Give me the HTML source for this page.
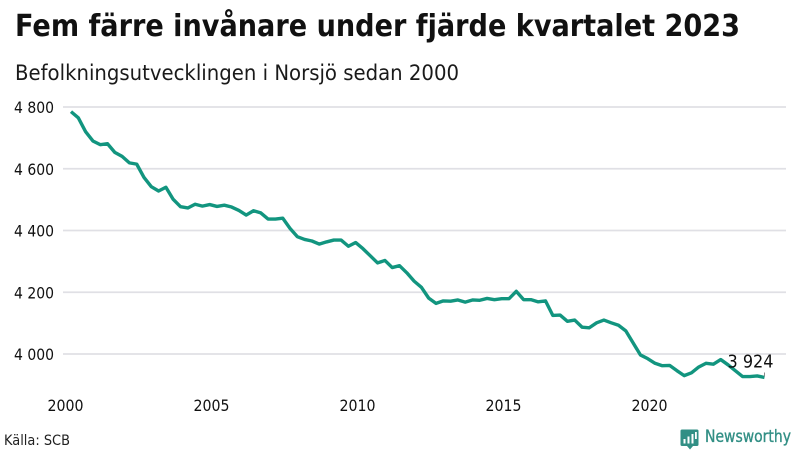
<!DOCTYPE html>
<html lang="sv">
<head>
<meta charset="utf-8">
<title>Fem färre invånare under fjärde kvartalet 2023</title>
<style>
html,body{margin:0;padding:0;background:#fff;width:800px;height:450px;overflow:hidden}
svg{display:block;font-family:"DejaVu Sans","Liberation Sans",sans-serif;fill:#111}
</style>
</head>
<body>
<svg id="chart" width="800" height="450" viewBox="0 0 800 450" xmlns="http://www.w3.org/2000/svg">
  <rect x="0" y="0" width="800" height="450" fill="#ffffff"/>
  <text x="15" y="36" font-size="30.500" font-weight="700" fill="#111111" textLength="725" lengthAdjust="spacingAndGlyphs">Fem färre invånare under fjärde kvartalet 2023</text>
  <text x="15" y="80" font-size="21" fill="#1a1a1a" textLength="444" lengthAdjust="spacingAndGlyphs">Befolkningsutvecklingen i Norsjö sedan 2000</text>
  <g id="grid"></g>
  <g id="yaxis"></g>
  <g id="xaxis"></g>
  <path id="line" fill="none" stroke="#12957f" stroke-width="3.400" stroke-linejoin="round" stroke-linecap="butt"/>
  <line id="endTick" stroke="#8a8a8a" stroke-width="1"/>
  <text id="endLabel" font-size="18" fill="#111111" text-anchor="middle" textLength="46" lengthAdjust="spacingAndGlyphs"></text>
  <text x="4" y="445" font-size="14.500" fill="#222222" textLength="66" lengthAdjust="spacingAndGlyphs">Källa: SCB</text>
  <g>
    <path d="M682 429.500H697Q698.500 429.500 698.500 431V444.500Q698.500 446 697 446H693L690 449.500L687 446H682Q680.500 446 680.500 444.500V431Q680.500 429.500 682 429.500Z" fill="#328f85"/>
    <rect x="683.500" y="439" width="2" height="4.500" fill="#ffffff"/>
    <rect x="687.500" y="436.500" width="2" height="7" fill="#ffffff"/>
    <rect x="691.500" y="434" width="2" height="9.500" fill="#ffffff"/>
    <rect x="695" y="432" width="1.800" height="7" fill="#ffffff"/>
    <text x="705" y="442" font-size="16.500" fill="#328f85" stroke="#328f85" stroke-width="0.350" textLength="86" lengthAdjust="spacingAndGlyphs">Newsworthy</text>
  </g>
</svg>
<script>
const yTickValues = [4800, 4600, 4400, 4200, 4000];
const yTickLabels = ["4 800", "4 600", "4 400", "4 200", "4 000"];
const xTickYears = [2000, 2005, 2010, 2015, 2020];
const startYear = 2000;
const population = [
  4785, 4765, 4720, 4690, 4678, 4681, 4653, 4640,
  4619, 4615, 4572, 4542, 4528, 4540, 4501, 4477,
  4473, 4485, 4479, 4484, 4478, 4482, 4476, 4465,
  4450, 4464, 4457, 4437, 4437, 4440, 4407, 4380,
  4371, 4366, 4356, 4363, 4369, 4369, 4349, 4361,
  4341, 4318, 4295, 4303, 4280, 4286, 4263, 4236,
  4216, 4181, 4164, 4172, 4171, 4175, 4168, 4175,
  4174, 4180, 4176, 4179, 4179, 4203, 4176, 4176,
  4169, 4172, 4125, 4126, 4106, 4110, 4087, 4085,
  4101, 4110, 4101, 4093, 4075, 4036, 3997, 3985,
  3970, 3962, 3963, 3946, 3930, 3939, 3958, 3970,
  3967, 3982, 3965, 3946, 3927, 3927, 3929, 3924
];
const endLabelText = "3 924";

const NS = "http://www.w3.org/2000/svg";
function yScale(v) { return 107 + (4800 - v) * 0.30875; }
function xScale(yearFloat) { return 64.5 + (yearFloat - 2000) * 29.2; }
function xOfIndex(i) { return xScale(startYear + (i + 1) / 4) - 0.8; }

const grid = document.getElementById("grid");
const yaxis = document.getElementById("yaxis");
const xaxis = document.getElementById("xaxis");

yTickValues.forEach(function (v, i) {
  const ln = document.createElementNS(NS, "line");
  
  
  ln.setAttribute("x1", 63);
  ln.setAttribute("x2", 786);
  ln.setAttribute("y1", yScale(v));
  ln.setAttribute("y2", yScale(v));
  ln.setAttribute("stroke", "#e0e0e5");
  ln.setAttribute("stroke-width", 1.8);
  grid.appendChild(ln);

  const t = document.createElementNS(NS, "text");
  
  
  t.setAttribute("x", 14);
  t.setAttribute("y", yScale(v) + 6);
  t.setAttribute("font-size", 16);
  t.setAttribute("fill", "#111111");
  t.setAttribute("textLength", 40);
  t.setAttribute("lengthAdjust", "spacingAndGlyphs");
  t.textContent = yTickLabels[i];
  yaxis.appendChild(t);
});

xTickYears.forEach(function (yr) {
  const t = document.createElementNS(NS, "text");
  
  
  t.setAttribute("x", xScale(yr) + 1);
  t.setAttribute("y", 411);
  t.setAttribute("font-size", 16);
  t.setAttribute("fill", "#111111");
  t.setAttribute("text-anchor", "middle");
  t.setAttribute("textLength", 36);
  t.setAttribute("lengthAdjust", "spacingAndGlyphs");
  t.textContent = String(yr);
  xaxis.appendChild(t);
});

document.getElementById("line").setAttribute("d", population.map(function (v, i) {
  return (i ? "L" : "M") + xOfIndex(i).toFixed(2) + " " + yScale(v).toFixed(2);
}).join(""));

const lastIndex = population.length - 1;
const lastX = xOfIndex(lastIndex);
const lastY = yScale(population[lastIndex]);
const endTick = document.getElementById("endTick");
endTick.setAttribute("x1", lastX);
endTick.setAttribute("x2", lastX);
endTick.setAttribute("y1", lastY - 5);
endTick.setAttribute("y2", lastY - 1);
const endLabel = document.getElementById("endLabel");
endLabel.setAttribute("x", lastX - 14);
endLabel.setAttribute("y", lastY - 10);
endLabel.textContent = endLabelText;
</script>
</body>
</html>
